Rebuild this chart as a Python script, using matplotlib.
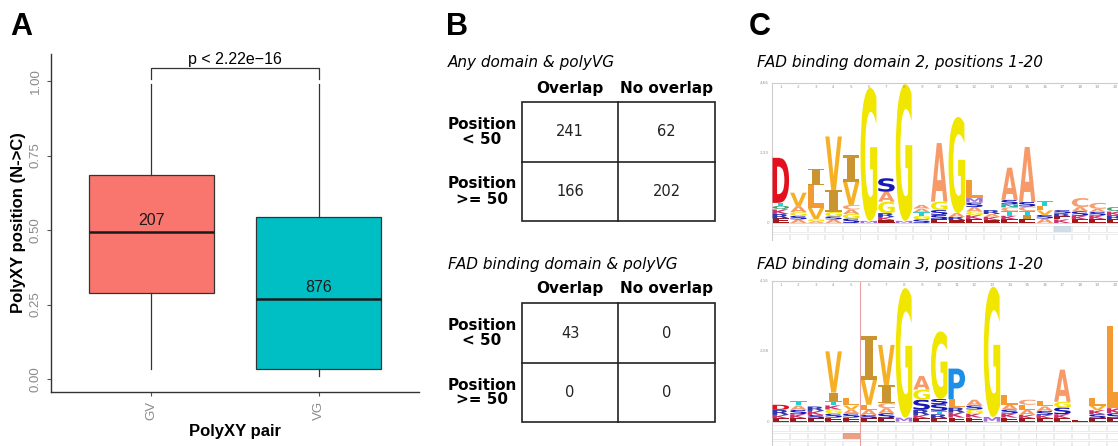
import matplotlib.pyplot as plt
from matplotlib.patches import Rectangle, PathPatch
from matplotlib.textpath import TextPath
from matplotlib.font_manager import FontProperties
from matplotlib.transforms import Affine2D

W, H = 1118, 446

# ---- panel A data ----
pairs = ['GV', 'VG']
counts_n = [207, 876]
q1 = [0.29, 0.034]
med = [0.493, 0.268]
q3 = [0.685, 0.543]
whis_lo = [0.034, 0.011]
whis_hi = [0.99, 0.99]
box_colors = ['#F8766D', '#00BFC4']
p_label = 'p < 2.22e\u221216'

# ---- panel B data ----
col_labels = ['Overlap', 'No overlap']
row_labels = ['Position\n< 50', 'Position\n>= 50']
any_title = 'Any domain & polyVG'
any_counts = [[241, 62], [166, 202]]
fad_title = 'FAD binding domain & polyVG'
fad_counts = [[43, 0], [0, 0]]

# ---- panel C data (letter stacks, bottom to top, height in bits) ----
logo1_title = 'FAD binding domain 2, positions 1-20'
logo1_max = 4.66
logo1 = [
    [('E', .15), ('R', .15), ('K', .15), ('Q', .12), ('T', .1), ('D', 1.5)],
    [('A', .12), ('S', .12), ('G', .12), ('A', .2), ('V', .45)],
    [('A', .06), ('G', .07), ('V', .37), ('L', .77), ('I', .53)],
    [('A', .12), ('S', .1), ('G', .15), ('I', .73), ('V', 1.78)],
    [('S', .15), ('G', .15), ('A', .15), ('C', .15), ('V', .78), ('I', .87)],
    [('M', .07), ('G', 4.43)],
    [('E', .1), ('K', .1), ('R', .13), ('G', .38), ('A', .33), ('S', .45)],
    [('M', .07), ('G', 4.55)],
    [('S', .12), ('G', .12), ('T', .12), ('A', .12), ('A', .12)],
    [('E', .12), ('S', .15), ('S', .16), ('G', .28), ('A', 1.95)],
    [('E', .1), ('R', .1), ('A', .13), ('G', 3.2)],
    [('E', .13), ('K', .13), ('G', .12), ('A', .15), ('S', .15), ('M', .15), ('L', .6)],
    [('E', .1), ('K', .1), ('A', .1), ('R', .13)],
    [('E', .12), ('K', .12), ('T', .15), ('C', .13), ('N', .1), ('S', .15), ('A', 1.07)],
    [('E', .12), ('I', .15), ('T', .13), ('C', .15), ('S', .15), ('A', 1.83)],
    [('A', .15), ('S', .12), ('V', .15), ('L', .15), ('T', .16)],
    [('K', .12), ('E', .1), ('R', .1), ('S', .11)],
    [('E', .12), ('K', .12), ('S', .15), ('A', .14), ('C', .3)],
    [('E', .13), ('K', .12), ('S', .12), ('A', .1), ('C', .2)],
    [('E', .13), ('R', .13), ('K', .12), ('Q', .15)],
]
logo2_title = 'FAD binding domain 3, positions 1-20'
logo2_max = 4.16
logo2 = [
    [('E', .1), ('K', .1), ('R', .15), ('D', .15)],
    [('E', .1), ('K', .12), ('S', .13), ('A', .13), ('T', .12)],
    [('E', .1), ('S', .1), ('K', .12), ('R', .13)],
    [('E', .12), ('S', .12), ('G', .12), ('K', .12), ('T', .12), ('I', .26), ('V', 1.22)],
    [('E', .12), ('S', .12), ('A', .12), ('V', .12), ('L', .22)],
    [('E', .1), ('S', .1), ('A', .15), ('L', .15), ('V', .74), ('I', 1.29)],
    [('E', .1), ('S', .15), ('A', .15), ('C', .15), ('I', .53), ('V', 1.19)],
    [('M', .12), ('G', 3.83)],
    [('E', .1), ('K', .1), ('R', .15), ('S', .3), ('G', .3), ('A', .4)],
    [('E', .1), ('R', .12), ('T', .1), ('S', .2), ('S', .15), ('G', 2.0)],
    [('E', .12), ('K', .15), ('R', .15), ('L', .25), ('P', .9)],
    [('E', .12), ('K', .12), ('G', .12), ('S', .12), ('A', .17)],
    [('M', .14), ('G', 3.85)],
    [('E', .12), ('K', .12), ('S', .12), ('A', .14), ('L', .3)],
    [('E', .1), ('K', .1), ('A', .15), ('L', .15), ('C', .15)],
    [('E', .1), ('K', .1), ('S', .12), ('A', .13), ('L', .15)],
    [('E', .1), ('K', .12), ('S', .2), ('G', .17), ('A', .95)],
    [('E', .05)],
    [('E', .1), ('S', .12), ('K', .12), ('V', .13), ('L', .23)],
    [('E', .1), ('S', .15), ('K', .15), ('L', 2.42)],
]
aa_colors = {
    'G': '#F0E600', 'V': '#F5B025', 'I': '#C89530', 'L': '#F39A32',
    'A': '#F79A6A', 'D': '#E3101E', 'S': '#1818B8', 'P': '#1E8FE6',
    'M': '#A070D8', 'C': '#F4A070', 'T': '#22D0D8', 'E': '#A01818',
    'K': '#D0306A', 'R': '#3038B0', 'Q': '#40A070', 'N': '#20B0A0',
}


def fr(x0, y0, x1, y1):
    return [x0 / W, 1 - y1 / H, (x1 - x0) / W, (y1 - y0) / H]


fig = plt.figure(figsize=(W / 100, H / 100), dpi=100)
sans = 'Liberation Sans'

# ================= Panel A =================
axA = fig.add_axes(fr(51, 54, 419, 392))
stats = []
for i in range(2):
    stats.append({'med': med[i], 'q1': q1[i], 'q3': q3[i],
                  'whislo': whis_lo[i], 'whishi': whis_hi[i], 'fliers': []})
bp = axA.bxp(stats, positions=[1, 2], widths=0.75, patch_artist=True,
             showcaps=False, showfliers=False,
             boxprops=dict(edgecolor='#333333', linewidth=0.9),
             whiskerprops=dict(color='#333333', linewidth=0.9),
             medianprops=dict(color='#1a1a1a', linewidth=1.8))
for patch, c in zip(bp['boxes'], box_colors):
    patch.set_facecolor(c)
for i, n in enumerate(counts_n):
    axA.text(i + 1, med[i] + 0.038, str(n), ha='center', va='center',
             fontsize=11.5, family=sans, color='#1a1a1a')
axA.plot([1, 1, 2, 2], [1.007, 1.044, 1.044, 1.007], color='#333333', lw=0.9)
axA.text(1.5, 1.048, p_label, ha='center', va='bottom', fontsize=11.5, family=sans)
axA.set_xlim(0.4, 2.6)
axA.set_ylim(-0.0436, 1.0906)
axA.set_yticks([0, 0.25, 0.5, 0.75, 1.0])
axA.set_yticklabels(['0.00', '0.25', '0.50', '0.75', '1.00'], rotation=90,
                    va='center', family=sans, fontsize=9.5, color='#8a8a8a')
axA.set_xticks([1, 2])
axA.set_xticklabels(pairs, rotation=90, family=sans, fontsize=9.5, color='#8a8a8a')
axA.tick_params(length=3, width=0.8, color='#555555')
for s in ['top', 'right']:
    axA.spines[s].set_visible(False)
for s in ['left', 'bottom']:
    axA.spines[s].set_color('#333333')
    axA.spines[s].set_linewidth(1.0)
axA.set_ylabel('PolyXY position (N->C)', fontsize=12, fontweight='bold',
               family=sans, labelpad=3)
axA.set_xlabel('PolyXY pair', fontsize=12, fontweight='bold', family=sans,
               labelpad=3)

# ================= overlay for B and letters =================
axO = fig.add_axes([0, 0, 1, 1])
axO.set_xlim(0, W)
axO.set_ylim(H, 0)
axO.axis('off')

for lab, x in zip(['A', 'B', 'C'], [21, 457, 760]):
    axO.text(x, 27, lab, ha='center', va='center', fontsize=22,
             fontweight='bold', family=sans)


def draw_table(title, counts, top, title_y, head_y):
    x0, xm, x1 = 522, 618, 715
    y0, ym, y1 = top, top + 60, top + 119
    axO.text(448, title_y, title, fontsize=11, style='italic',
             family='DejaVu Sans', va='center', ha='left')
    for lab, cx in zip(col_labels, [(x0 + xm) / 2, (xm + x1) / 2]):
        axO.text(cx, head_y, lab, fontsize=11, fontweight='bold',
                 family='DejaVu Sans', ha='center', va='center')
    axO.add_patch(Rectangle((x0, y0), x1 - x0, y1 - y0, fill=False,
                            ec='#222222', lw=1.2))
    axO.plot([xm, xm], [y0, y1], color='#222222', lw=1.2)
    axO.plot([x0, x1], [ym, ym], color='#222222', lw=1.2)
    rows = [(y0 + ym) / 2, (ym + y1) / 2]
    cols = [(x0 + xm) / 2, (xm + x1) / 2]
    for r, ry in enumerate(rows):
        axO.text(482, ry, row_labels[r], fontsize=11, fontweight='bold',
                 family='DejaVu Sans', ha='center', va='center',
                 linespacing=1.0)
        for c, cx in enumerate(cols):
            axO.text(cx, ry, str(counts[r][c]), fontsize=10.5,
                     family='DejaVu Sans', ha='center', va='center',
                     color='#222222')


draw_table(any_title, any_counts, 102, 63, 88)
draw_table(fad_title, fad_counts, 303, 265, 289)

axO.text(757, 62, logo1_title, fontsize=11, style='italic',
         family='DejaVu Sans', va='center', ha='left')
axO.text(757, 265, logo2_title, fontsize=11, style='italic',
         family='DejaVu Sans', va='center', ha='left')

# ================= Panel C logos =================
fp = FontProperties(family='DejaVu Sans', weight='bold')
fp_serif = FontProperties(family='DejaVu Serif', weight='bold')


def draw_letter(ax, letter, x, y, h, w=0.94):
    prop = fp_serif if letter == 'I' else fp
    tp = TextPath((0, 0), letter, size=1, prop=prop)
    bb = tp.get_extents()
    tr = (Affine2D().translate(-bb.x0, -bb.y0)
          .scale(w / bb.width, h / bb.height)
          .translate(x - w / 2, y))
    ax.add_patch(PathPatch(tr.transform_path(tp), fc=aa_colors[letter],
                           lw=0, zorder=3))


def draw_logo(rect, stacks, ymax, base_px, bot_px, n_rows, mark):
    top_px = rect[1]
    ax = fig.add_axes(fr(rect[0], top_px, W, bot_px))
    ax.set_xlim(0.5, 0.5 + (W - rect[0]) / 17.6)
    unit = ymax / (base_px - top_px)
    ax.set_ylim(-(bot_px - base_px) * unit, ymax)
    ax.set_xticks([])
    ax.set_yticks([])
    for s in ['right', 'bottom']:
        ax.spines[s].set_visible(False)
    for s in ['left', 'top']:
        ax.spines[s].set_color('#cccccc')
        ax.spines[s].set_linewidth(0.8)
    ax.patch.set_alpha(0)
    for i, stack in enumerate(stacks):
        x = i + 1
        y = 0
        for letter, h in stack:
            draw_letter(ax, letter, x, y, h)
            y += h
        ax.text(x, ymax - 4 * unit, str(x), fontsize=3, color='#999999',
                ha='center', va='center')
        for r in range(n_rows):
            ax.add_patch(Rectangle((x - 0.48, -(3 + 8 * r) * unit - 6 * unit),
                                   0.96, 6 * unit, fill=False,
                                   ec='#dddddd', lw=0.4))
    hx, hr, hc = mark
    ax.add_patch(Rectangle((hx - 0.48, -(3 + 8 * hr) * unit - 6 * unit),
                           0.96, 6 * unit, fc=hc, ec='none', alpha=0.7))
    ax.plot([0.5, 0.5 + (W - rect[0]) / 17.6], [0, 0], color='#cccccc', lw=0.5)
    for val, lab in [(ymax, '%.2f' % ymax), (ymax / 2, '%.2f' % (ymax / 2)),
                     (0, '0')]:
        axO.text(rect[0] - 3, base_px - val / unit, lab, fontsize=3,
                 color='#999999', ha='right', va='center')
    return ax


draw_logo((772, 83), logo1, logo1_max, 223, 240, 2, (17, 0, '#b8cfe0'))
ax2 = draw_logo((772, 281), logo2, logo2_max, 421.7, 446, 3, (5, 1, '#e87850'))
ax2.axvline(5.5, color='#e8a0a0', lw=0.8, zorder=1)

fig.savefig('out.png', dpi=100)
